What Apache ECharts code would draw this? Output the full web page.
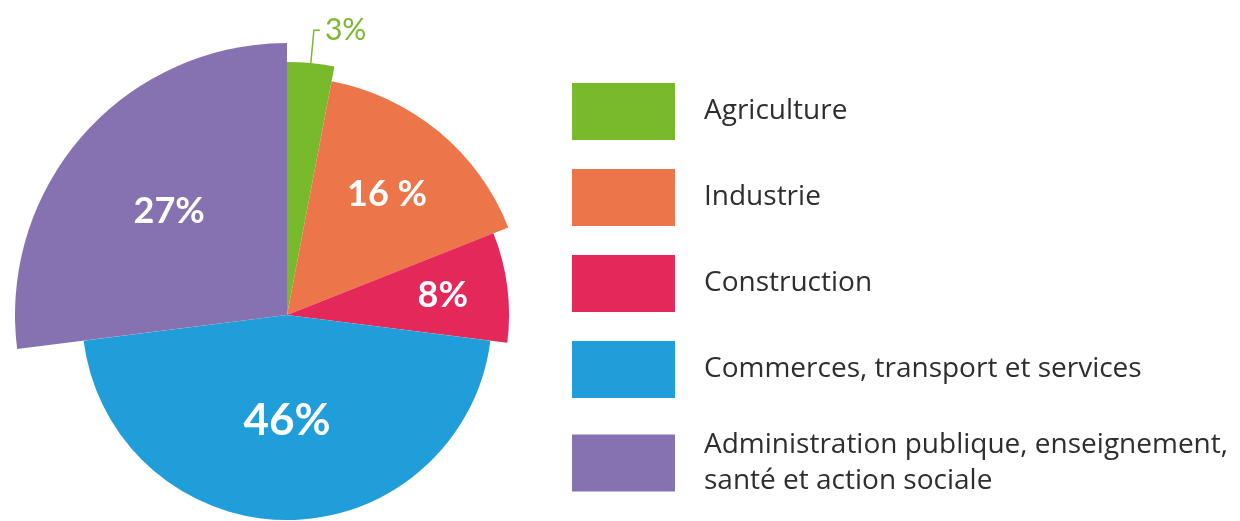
<!DOCTYPE html>
<html>
<head>
<meta charset="utf-8">
<title>Répartition de l'emploi par secteur</title>
<script src="https://cdn.jsdelivr.net/npm/echarts@6/dist/echarts.min.js"></script>
<style>
  html, body { margin: 0; padding: 0; background: #ffffff; }
  #chart { width: 1240px; height: 521px; }
</style>
</head>
<body>
<div id="chart"></div>
<script>
// Sectors, their shares (%) and the text printed on each slice
const categories = [
  'Agriculture',
  'Industrie',
  'Construction',
  'Commerces, transport et services',
  'Administration publique, enseignement, santé et action sociale'
];
const shares = [3, 16, 8, 46, 27];
const shareLabels = ['3%', '16 %', '8%', '46%', '27%'];
const colors = ['#79b92c', '#ec764a', '#e5285a', '#1f9ed9', '#8672b1'];

// Each slice is pulled out to its own outer radius
const sliceRadius = [253, 238, 222, 205, 272];
const pieCenter = [287, 315];
const transparent = 'rgba(0,0,0,0)';
const labelFont = 'Lato, "Open Sans", sans-serif';
const legendFont = '"Open Sans", "Noto Sans", sans-serif';

function baseData(visibleIndex) {
  return categories.map((name, j) => ({
    name: name,
    value: shares[j],
    itemStyle: { color: j === visibleIndex ? colors[j] : transparent, borderWidth: 0 }
  }));
}

const series = [];

// One pie per sector: all sectors share the same angular layout, only one is painted
categories.forEach((name, i) => {
  const data = baseData(i);
  if (i === 0) {
    data[0].label = {
      show: true,
      position: 'outside',
      formatter: shareLabels[0],
      color: colors[0],
      fontFamily: labelFont,
      fontSize: 30,
      fontWeight: 'normal'
    };
    data[0].labelLine = {
      show: true,
      length: 33,
      length2: 6,
      smooth: false,
      lineStyle: { color: colors[0], width: 1.5 }
    };
  }
  if (i === 3) {
    data[3].label = {
      show: true,
      position: 'inside',
      formatter: shareLabels[3],
      color: '#ffffff',
      fontFamily: labelFont,
      fontSize: 44,
      fontWeight: 'bold'
    };
  }
  series.push({
    type: 'pie',
    center: pieCenter,
    radius: [0, sliceRadius[i]],
    startAngle: 90,
    clockwise: true,
    silent: true,
    animation: false,
    avoidLabelOverlap: false,
    label: { show: false },
    labelLine: { show: false },
    emphasis: { disabled: true },
    data: data
  });
});

// Percentages printed inside the other slices
const insideData = categories.map((name, j) => {
  const item = { name: name, value: shares[j], itemStyle: { color: transparent, borderWidth: 0 } };
  if (j === 1 || j === 2 || j === 4) {
    item.label = {
      show: true,
      position: 'inside',
      formatter: shareLabels[j],
      color: '#ffffff',
      fontFamily: labelFont,
      fontSize: 36,
      fontWeight: 'bold'
    };
  }
  return item;
});
series.push({
  type: 'pie',
  center: pieCenter,
  radius: [0, 308],
  startAngle: 90,
  clockwise: true,
  silent: true,
  animation: false,
  avoidLabelOverlap: false,
  label: { show: false },
  labelLine: { show: false },
  emphasis: { disabled: true },
  data: insideData
});

const legendCommon = {
  orient: 'vertical',
  left: 572,
  padding: 0,
  icon: 'rect',
  itemWidth: 103,
  itemHeight: 57,
  itemGap: 29,
  selectedMode: false,
  textStyle: {
    fontFamily: legendFont,
    fontSize: 28,
    color: '#2e2e2e',
    lineHeight: 36,
    padding: [0, 0, 0, 24]
  }
};

const option = {
  backgroundColor: '#ffffff',
  animation: false,
  legend: [
    Object.assign({}, legendCommon, {
      top: 83,
      data: categories.slice(0, 4).map((name, j) => ({ name: name, itemStyle: { color: colors[j] } }))
    }),
    Object.assign({}, legendCommon, {
      top: 427,
      data: [{ name: categories[4], itemStyle: { color: colors[4] } }],
      formatter: function () {
        return 'Administration publique, enseignement,\nsanté et action sociale';
      }
    })
  ],
  series: series
};

const chart = echarts.init(document.getElementById('chart'), null, { renderer: 'canvas' });
chart.setOption(option);
</script>
</body>
</html>
